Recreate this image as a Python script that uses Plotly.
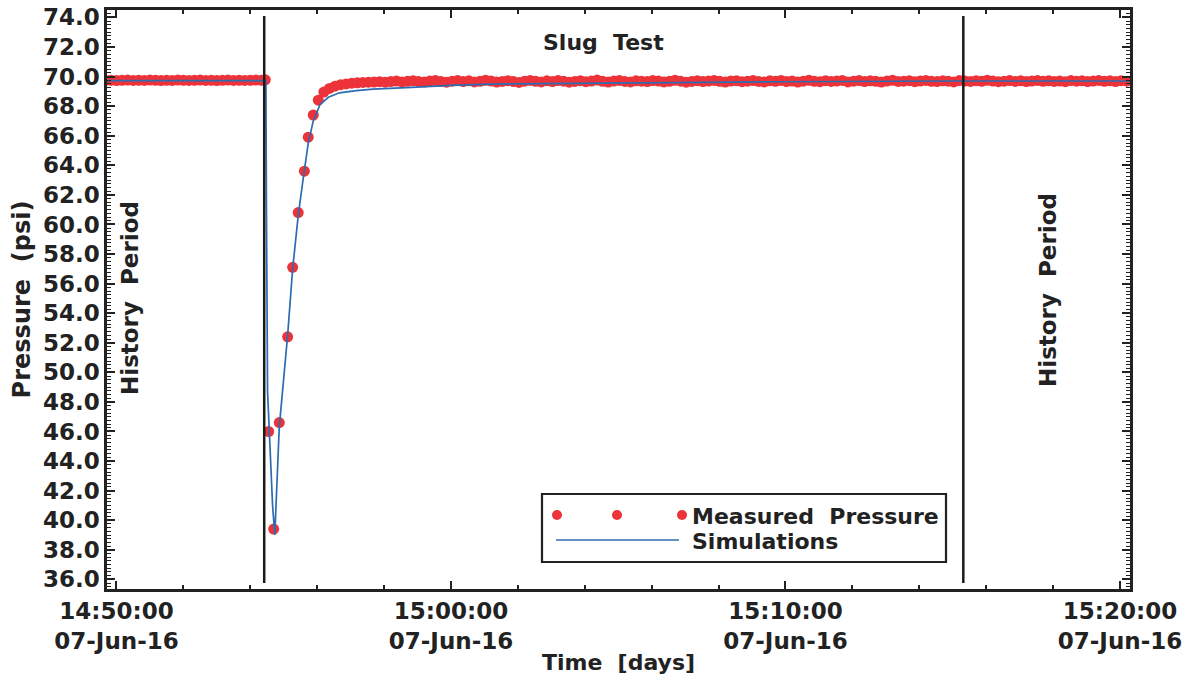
import pandas as pd
import plotly.graph_objects as go

# ---------------- data ----------------
# measured pressure: pre-event logger samples (10 s)
pre_start = "2016-06-07 14:49:40"
pre_vals = [69.74, 69.75, 69.73, 69.75, 69.76, 69.74, 69.75, 69.74, 69.76, 69.75,
            69.73, 69.75, 69.74, 69.76, 69.75, 69.74, 69.75, 69.76, 69.74, 69.75,
            69.73, 69.75, 69.76, 69.74, 69.75, 69.74, 69.75, 69.76, 69.75]

# measured pressure: slug event samples
event_times = ["2016-06-07 14:54:27", "2016-06-07 14:54:33", "2016-06-07 14:54:42",
               "2016-06-07 14:54:52", "2016-06-07 14:55:07", "2016-06-07 14:55:16",
               "2016-06-07 14:55:26", "2016-06-07 14:55:37", "2016-06-07 14:55:44",
               "2016-06-07 14:55:53", "2016-06-07 14:56:02"]
event_vals = [69.78, 46.0, 39.4, 46.6, 52.4, 57.1, 60.8, 63.6, 65.9, 67.4, 68.4]

# measured pressure: recovery / post-event logger samples (10 s)
post_start = "2016-06-07 14:56:12"
post_vals = [68.95, 69.20, 69.35, 69.45, 69.50, 69.55, 69.58, 69.60, 69.62, 69.63,
             69.65, 69.62, 69.66, 69.70, 69.64, 69.68, 69.72, 69.66, 69.63, 69.70,
             69.74, 69.67, 69.62, 69.69, 69.73, 69.66, 69.71, 69.64, 69.68, 69.75,
             69.70, 69.63, 69.67, 69.72, 69.66, 69.60, 69.69, 69.74, 69.68, 69.64,
             69.71, 69.66, 69.73, 69.69, 69.62, 69.67, 69.72, 69.65, 69.70, 69.76,
             69.68, 69.63, 69.70, 69.74, 69.67, 69.64, 69.71, 69.69, 69.66, 69.73,
             69.70, 69.64, 69.68, 69.75, 69.69, 69.62, 69.67, 69.72, 69.66, 69.70,
             69.74, 69.68, 69.63, 69.70, 69.72, 69.65, 69.69, 69.73, 69.67, 69.64,
             69.71, 69.68, 69.74, 69.66, 69.70, 69.63, 69.69, 69.75, 69.68, 69.65,
             69.72, 69.67, 69.70, 69.74, 69.64, 69.69, 69.73, 69.66, 69.71, 69.68,
             69.63, 69.70, 69.75, 69.67, 69.69, 69.72, 69.65, 69.70, 69.74, 69.68,
             69.66, 69.71, 69.69, 69.64, 69.73, 69.70, 69.67, 69.72, 69.68, 69.75,
             69.70, 69.65, 69.69, 69.73, 69.67, 69.71, 69.66, 69.70, 69.74, 69.68,
             69.72, 69.67, 69.70, 69.65, 69.73, 69.69, 69.71, 69.66, 69.70, 69.74,
             69.68, 69.71, 69.66, 69.72, 69.69, 69.73]

# simulation curve
sim_times = ["2016-06-07 14:49:40", "2016-06-07 14:54:28", "2016-06-07 14:54:29",
             "2016-06-07 14:54:31", "2016-06-07 14:54:40", "2016-06-07 14:54:44",
             "2016-06-07 14:54:52", "2016-06-07 14:55:07", "2016-06-07 14:55:16",
             "2016-06-07 14:55:26", "2016-06-07 14:55:36", "2016-06-07 14:55:44",
             "2016-06-07 14:55:53", "2016-06-07 14:56:05", "2016-06-07 14:56:20",
             "2016-06-07 14:56:40", "2016-06-07 14:57:10", "2016-06-07 14:57:40",
             "2016-06-07 14:58:40", "2016-06-07 15:00:00", "2016-06-07 15:01:30",
             "2016-06-07 15:04:00", "2016-06-07 15:06:30", "2016-06-07 15:10:00",
             "2016-06-07 15:15:00", "2016-06-07 15:20:30"]
sim_vals = [69.72, 69.72, 61.3, 48.7, 41.0, 39.0, 46.3, 52.5, 57.0, 60.6, 63.4, 65.5,
            67.0, 68.1, 68.6, 68.9, 69.05, 69.15, 69.25, 69.4, 69.5, 69.55, 69.6,
            69.65, 69.7, 69.7]

# period markers
history_end = "2016-06-07 14:54:25"
history_start2 = "2016-06-07 15:15:19"

x_range = ["2016-06-07 14:49:43", "2016-06-07 15:20:18"]
y_range = [35.35, 74.5]
y_ticks = [36 + 2 * i for i in range(20)]

# ---------------- build ----------------
meas_x = (list(pd.date_range(pre_start, periods=len(pre_vals), freq="10s"))
          + list(pd.to_datetime(event_times))
          + list(pd.date_range(post_start, periods=len(post_vals), freq="10s")))
meas_y = pre_vals + event_vals + post_vals

RED = "#EC3339"
BLUE = "#2C6CB2"
INK = "#222222"
FONT = "DejaVu Sans"
NB = "\u00a0 "

fig = go.Figure()
fig.add_trace(go.Scatter(x=meas_x, y=meas_y, mode="markers", name="Measured Pressure",
                         marker=dict(color=RED, size=11, line=dict(width=0)),
                         showlegend=False))
fig.add_trace(go.Scatter(x=pd.to_datetime(sim_times), y=sim_vals, mode="lines",
                         name="Simulations", line=dict(color=BLUE, width=1.7),
                         showlegend=False))

# vertical period separators
for t in (history_end, history_start2):
    fig.add_shape(type="line", xref="x", yref="y", x0=t, x1=t, y0=35.75, y1=74.1,
                  line=dict(color="#1a1a1a", width=2.5), layer="above")

# legend (drawn as a box, like the original)
L, R, T, B = 107, 1130, 10, 589
px = lambda v: (v - L) / (R - L)
py = lambda v: (B - v) / (B - T)
fig.add_shape(type="rect", xref="paper", yref="paper", x0=px(542), x1=px(946),
              y0=py(562), y1=py(494), line=dict(color=INK, width=2.2),
              fillcolor="white", layer="above")
for cx in (557, 617, 682):
    fig.add_shape(type="circle", xref="paper", yref="paper", xsizemode="pixel",
                  ysizemode="pixel", xanchor=px(cx), yanchor=py(515),
                  x0=-5, x1=5, y0=-5, y1=5, fillcolor=RED, line=dict(width=0),
                  layer="above")
fig.add_shape(type="line", xref="paper", yref="paper", x0=px(556), x1=px(679),
              y0=py(540), y1=py(540), line=dict(color=BLUE, width=1.7), layer="above")
fig.add_annotation(xref="paper", yref="paper", x=px(690), y=py(516), xanchor="left",
                   yanchor="middle", showarrow=False, text="Measured" + NB + "Pressure",
                   font=dict(family=FONT, size=22, color=INK, weight="bold"))
fig.add_annotation(xref="paper", yref="paper", x=px(690), y=py(541), xanchor="left",
                   yanchor="middle", showarrow=False, text="Simulations",
                   font=dict(family=FONT, size=22, color=INK, weight="bold"))

# labels inside plot
fig.add_annotation(xref="paper", yref="paper", x=px(603), y=py(42), showarrow=False,
                   xanchor="center", yanchor="middle",
                   text="Slug" + NB + "Test",
                   font=dict(family=FONT, size=22, color=INK, weight="bold"))
fig.add_annotation(xref="paper", yref="paper", x=px(130), y=py(298), showarrow=False,
                   xanchor="center", yanchor="middle",
                   text="History" + NB + "Period", textangle=-90,
                   font=dict(family=FONT, size=23, color=INK, weight="bold"))
fig.add_annotation(xref="paper", yref="paper", x=px(1048), y=py(290), showarrow=False,
                   xanchor="center", yanchor="middle",
                   text="History" + NB + "Period", textangle=-90,
                   font=dict(family=FONT, size=23, color=INK, weight="bold"))

tickfont = dict(family=FONT, size=23, color=INK, weight="bold")
fig.update_xaxes(
    range=x_range, type="date", automargin=False,
    tick0="2016-06-07 14:50:00", dtick=600000,
    tickformat="%H:%M:%S<br>%d-%b-%y",
    ticks="inside", ticklen=8, tickwidth=2, tickcolor=INK,
    minor=dict(dtick=120000, tick0="2016-06-07 14:50:00", ticks="inside",
               ticklen=4, tickwidth=1.5, tickcolor=INK, showgrid=False),
    showline=True, linewidth=2.5, linecolor=INK, mirror="ticks",
    showgrid=False, zeroline=False, tickfont=tickfont,
    title=dict(text="Time" + NB + "[days]", standoff=2,
               font=dict(family=FONT, size=22, color=INK, weight="bold")),
)
fig.update_yaxes(
    range=y_range, tickvals=y_ticks, tickformat=".1f", automargin=False,
    ticks="inside", ticklen=8, tickwidth=2, tickcolor=INK,
    minor=dict(dtick=0.25, tick0=36, ticks="inside", ticklen=4, tickwidth=1,
               tickcolor=INK, showgrid=False),
    showline=True, linewidth=2.5, linecolor=INK, mirror="ticks",
    showgrid=False, zeroline=False, tickfont=tickfont,
    title=dict(text="Pressure" + NB + "(psi)", standoff=6,
               font=dict(family=FONT, size=24, color=INK, weight="bold")),
)
fig.update_layout(
    width=1186, height=680,
    margin=dict(l=L, r=1186 - R, t=T, b=680 - B),
    paper_bgcolor="white", plot_bgcolor="white",
    showlegend=False,
)
fig.write_html("out.html")
